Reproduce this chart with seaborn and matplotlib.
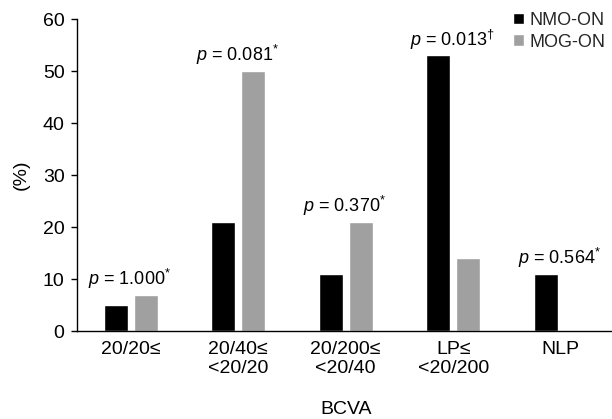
import matplotlib
matplotlib.use("Agg")
import matplotlib.pyplot as plt
import seaborn as sns
import pandas as pd

categories = ["20/20≤", "20/40≤\n<20/20", "20/200≤\n<20/40", "LP≤\n<20/200", "NLP"]
groups = ["NMO-ON", "MOG-ON"]
nmo_on = [5, 21, 11, 53, 11]
mog_on = [7, 50, 21, 14, 0]
p_values = ["1.000", "0.081", "0.370", "0.013", "0.564"]
p_marks = ["*", "*", "*", "†", "*"]
y_ticks = [0, 10, 20, 30, 40, 50, 60]

sns.set_theme(style="ticks")
plt.rcParams["font.family"] = ["Liberation Sans", "DejaVu Sans"]
plt.rcParams["mathtext.fontset"] = "custom"
plt.rcParams["mathtext.rm"] = "Liberation Sans"
plt.rcParams["mathtext.it"] = "Liberation Sans:italic"

FS = 14

df = pd.DataFrame({
    "BCVA": categories * 2,
    "group": [groups[0]] * len(categories) + [groups[1]] * len(categories),
    "value": nmo_on + mog_on,
})

fig = plt.figure(figsize=(6.12, 4.19), dpi=100)
ax = fig.add_axes([77 / 612, 1 - 331 / 419, 1.004 - 77 / 612, (331 - 19) / 419])

sns.barplot(data=df, x="BCVA", y="value", hue="group", order=categories,
            hue_order=groups, palette=["#000000", "#a0a0a0"],
            width=0.56, gap=0.2, saturation=1, ax=ax, errorbar=None)

ax.set_xlim(-0.5, 4.5)
ax.set_ylim(0, 60)
ax.set_yticks(y_ticks)
ax.tick_params(axis="y", labelsize=FS, length=4, width=1, pad=5, color="black", labelcolor="black")
ax.tick_params(axis="x", labelsize=FS, length=0, pad=7, labelcolor="black")
for s in ["top", "right"]:
    ax.spines[s].set_visible(False)
for s in ["left", "bottom"]:
    ax.spines[s].set_color("black")
    ax.spines[s].set_linewidth(1)

ax.set_xlabel("BCVA", fontsize=FS, labelpad=17, color="black")
ax.set_ylabel("(%)", fontsize=FS, labelpad=9, color="black")

for i, (a, b) in enumerate(zip(nmo_on, mog_on)):
    top = max(a, b)
    ax.text(i - 0.01, top + 1.9, f"$\\it{{p}}$ = {p_values[i]}$^{{{p_marks[i]}}}$",
            ha="center", va="baseline", fontsize=13, color="black")

handles, labels = ax.get_legend_handles_labels()
ax.legend(handles, labels, frameon=False, fontsize=13, loc="upper left",
          bbox_to_anchor=(513 / 612, 1 - 12 / 419), bbox_transform=fig.transFigure,
          borderaxespad=0, borderpad=0, handlelength=0.6, handleheight=0.6,
          handletextpad=0.3, labelspacing=0.25)

fig.savefig("out.png", dpi=100)
